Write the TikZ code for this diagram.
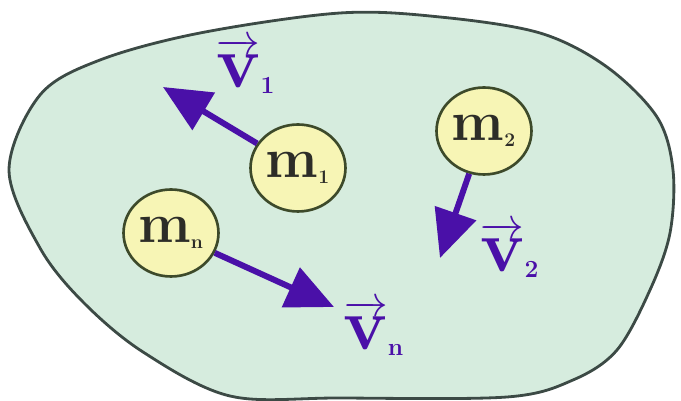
\documentclass[tikz,border=0pt]{standalone}
\usepackage{amsmath}
\usepackage{tikz}
\usetikzlibrary{arrows.meta, positioning, shapes.geometric}
\definecolor{regionfill}{RGB}{214,236,222}
\definecolor{regionline}{RGB}{60,74,69}
\definecolor{massfill}{RGB}{247,245,181}
\definecolor{massline}{RGB}{61,74,42}
\definecolor{velcol}{RGB}{74,16,168}
\definecolor{masstext}{RGB}{45,45,40}
\newcommand{\msub}[1]{\mbox{\fontsize{11}{11}\selectfont\bfseries #1}}
\newcommand{\vsub}[1]{\mbox{\fontsize{14}{14}\selectfont\bfseries #1}}
\newcommand{\velvec}[1]{$\overrightarrow{\mbox{\bfseries v}}_{\vsub{#1}}$}

\begin{document}
\begin{tikzpicture}[
    x=0.02cm, y=-0.02cm,
    region/.style={draw=regionline, fill=regionfill, line width=1.6pt},
    mass/.style={ellipse, draw=massline, fill=massfill, line width=1.5pt, minimum width=1.9cm, minimum height=1.74cm, inner sep=0pt, text=masstext, font=\fontsize{32}{32}\selectfont\bfseries},
    vel/.style={-{Triangle[length=0.95cm, width=0.85cm]}, line width=3.4pt, draw=velcol},
    vlabel/.style={text=velcol, inner sep=0pt, font=\fontsize{42}{42}\selectfont}
]
\useasboundingbox (0,0) rectangle (681,401);
\draw[region] plot[smooth cycle, tension=0.55] coordinates {
    (9,170) (40,95) (100,60) (200,33) (340,13) (440,17) (540,33) (607,67)
    (657,117) (673,170) (670,233) (650,290) (617,350) (573,380) (507,397)
    (340,398) (230,396) (143,352) (83,302) (40,248)};

\node[mass] (m1) at (298,168) {m$_{\msub{1}}$};
\node[mass] (m2) at (484,131) {m$_{\msub{2}}$};
\node[mass] (mn) at (171,233) {m$_{\msub{n}}$};

\coordinate (t1) at (163,87);
\coordinate (t2) at (440,258);
\coordinate (tn) at (334,307);

\draw[vel] (m1) -- (t1);
\draw[vel] (m2) -- (t2);
\draw[vel] (mn) -- (tn);

\node[vlabel] (v1) at (246,66) {\velvec{1}};
\node[vlabel] (v2) at (510,250) {\velvec{2}};
\node[vlabel] (vn) at (374,328) {\velvec{n}};
\end{tikzpicture}
\end{document}
